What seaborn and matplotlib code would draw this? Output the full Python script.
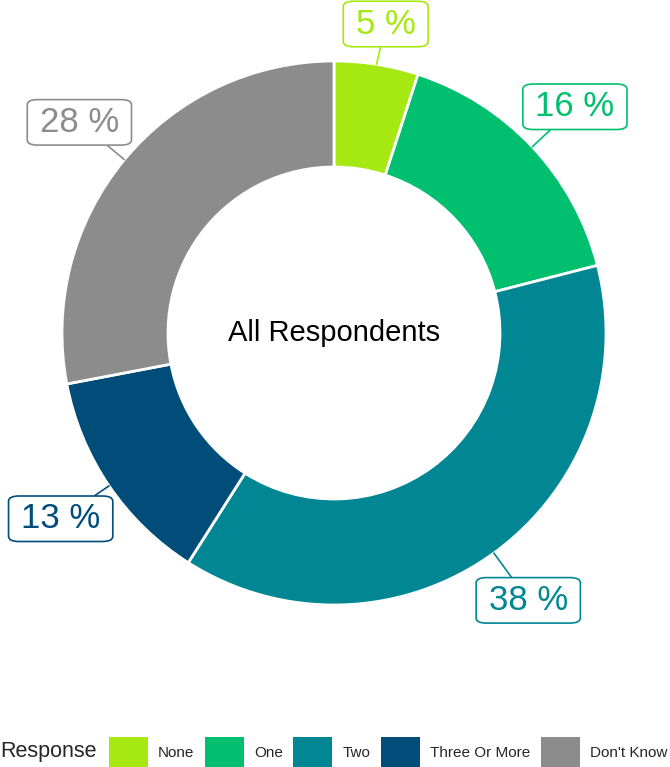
import numpy as np
import seaborn as sns
import matplotlib.pyplot as plt
from matplotlib.patches import Patch

# data
responses = ["None", "One", "Two", "Three Or More", "Don't Know"]
shares = [5, 16, 38, 13, 28]
colors = ["#A6E812", "#00BF6F", "#008793", "#004D7A", "#8C8C8C"]

sns.set_theme(style="white")
plt.rcParams["font.family"] = ["Liberation Sans", "DejaVu Sans"]

W, H = 670, 767
fig = plt.figure(figsize=(W / 100, H / 100), dpi=100)
ax = fig.add_axes([0, 0, 1, 1])

cx, cy = 334, H - 333
r_out, r_in = 272, 166

palette = sns.color_palette(colors)
wedges, _ = ax.pie(shares, colors=palette, startangle=90, counterclock=False,
                   radius=r_out, center=(cx, cy),
                   wedgeprops=dict(width=r_out - r_in, edgecolor="white", linewidth=2))
ax.set_xlim(0, W)
ax.set_ylim(0, H)
ax.set_aspect("equal")
ax.axis("off")

ax.text(cx, cy, "All Respondents", ha="center", va="center", fontsize=21, color="black")

# labels with leader lines
cum = np.cumsum(shares) - np.array(shares) / 2
total = sum(shares)
for share, mid, col in zip(shares, cum, colors):
    ang = np.deg2rad(90 - 360 * mid / total)
    x0, y0 = cx + r_out * np.cos(ang), cy + r_out * np.sin(ang)
    lx, ly = cx + 1.215 * r_out * np.cos(ang), cy + 1.215 * r_out * np.sin(ang)
    ly = min(ly, H - 24)
    t = ax.annotate(f"{share} %", xy=(x0, y0), xytext=(lx, ly), ha="center", va="center",
                    fontsize=25, color=col,
                    bbox=dict(boxstyle="round,pad=0.36,rounding_size=0.3", fc="white", ec=col, lw=1.2),
                    arrowprops=dict(arrowstyle="-", color=col, lw=1.2, shrinkA=0, shrinkB=0))
    t.get_bbox_patch().set_mutation_aspect(0.5)

# legend
fig.text(0, 15 / H, "Response", ha="left", va="center", fontsize=15.5)
handles = [Patch(facecolor=c, edgecolor="none") for c in colors]
fig.legend(handles, responses, loc="center left", bbox_to_anchor=(109 / W, 15 / H),
           ncol=5, frameon=False, fontsize=11, borderpad=0, borderaxespad=0,
           handlelength=2.55, handleheight=2.6, handletextpad=0.65, columnspacing=0.7)

fig.savefig("out.png", dpi=100)
